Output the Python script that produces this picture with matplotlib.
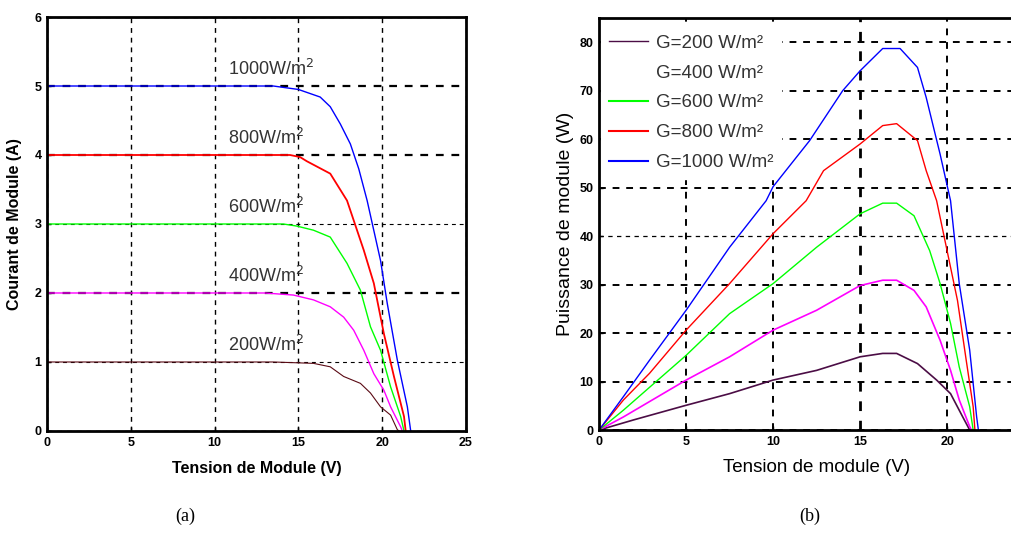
import numpy as np
import matplotlib
matplotlib.use('Agg')
import matplotlib.pyplot as plt
from matplotlib.lines import Line2D

plt.rcParams['font.family'] = ['Liberation Sans', 'DejaVu Sans']

# (a) I-V curves
v_1000 = [0, 13.5, 15.0, 16.3, 16.9, 17.5, 18.1, 18.6, 19.1, 19.9, 20.3, 20.9, 21.5, 21.7]
i_1000 = [5, 5, 4.95, 4.84, 4.70, 4.45, 4.16, 3.80, 3.34, 2.47, 1.85, 1.03, 0.35, 0]
v_800 = [0, 14.5, 15.1, 15.5, 16.9, 17.9, 18.9, 19.5, 20.1, 20.7, 21.3, 21.4]
i_800 = [4, 4, 3.97, 3.91, 3.73, 3.34, 2.62, 2.14, 1.41, 0.79, 0.21, 0]
v_600 = [0, 14.1, 14.9, 15.9, 16.9, 17.9, 18.7, 19.3, 19.9, 20.5, 21.1, 21.3]
i_600 = [3, 3, 2.97, 2.91, 2.81, 2.43, 2.04, 1.51, 1.17, 0.64, 0.21, 0]
v_400 = [0, 13.0, 14.7, 15.9, 16.9, 17.7, 18.3, 18.9, 19.5, 20.1, 20.5, 21.1, 21.2]
i_400 = [2, 2, 1.97, 1.90, 1.80, 1.65, 1.46, 1.17, 0.83, 0.59, 0.35, 0.06, 0]
v_200 = [0, 13.5, 15.9, 16.9, 17.7, 18.7, 19.3, 19.9, 20.5, 20.9, 21.0]
i_200 = [1, 1, 0.98, 0.93, 0.79, 0.69, 0.55, 0.35, 0.23, 0.02, 0]

# (b) P-V curves
pv_1000 = [0, 1.4, 2.9, 5.0, 7.5, 9.6, 10.0, 12.1, 14.0, 15.0, 16.3, 16.7, 17.3, 18.3, 18.8, 19.6, 20.2, 20.7, 21.3, 21.7, 21.8]
p_1000 = [0, 6.9, 14.4, 24.7, 37.7, 47.3, 50.2, 59.7, 70.0, 74.1, 78.7, 78.7, 78.7, 74.8, 68.6, 56.9, 47.3, 30.2, 16.5, 2.7, 0]
pv_800 = [0, 1.4, 2.9, 5.0, 7.5, 10.0, 11.9, 12.9, 15.0, 16.3, 17.1, 18.3, 18.8, 19.4, 20.0, 20.6, 21.1, 21.5, 21.6]
p_800 = [0, 6.2, 11.7, 20.6, 30.2, 40.5, 47.3, 53.5, 59.0, 62.8, 63.2, 59.7, 53.5, 47.3, 37.0, 26.7, 14.4, 4.8, 0]
pv_600 = [0, 1.4, 5.0, 7.5, 10.0, 12.5, 15.0, 16.3, 17.1, 18.1, 19.0, 19.6, 20.2, 20.7, 21.3, 21.5]
p_600 = [0, 4.1, 15.4, 24.0, 30.2, 37.7, 44.6, 46.8, 46.8, 44.2, 37.0, 30.2, 22.0, 13.0, 4.8, 0]
pv_400 = [0, 1.4, 5.0, 7.5, 10.0, 12.5, 15.0, 16.3, 17.1, 18.1, 18.8, 19.6, 20.2, 20.7, 21.3, 21.4]
p_400 = [0, 2.7, 10.3, 15.1, 20.6, 24.7, 29.8, 30.9, 30.9, 28.8, 25.4, 18.5, 12.3, 6.2, 0.7, 0]
pv_200 = [0, 2.0, 5.0, 7.5, 10.0, 12.5, 15.0, 16.3, 17.1, 18.3, 19.4, 20.2, 20.9, 21.3]
p_200 = [0, 2.1, 5.1, 7.5, 10.3, 12.3, 15.1, 15.8, 15.8, 13.7, 10.3, 7.5, 2.7, 0]

iv_labels = ['1000W/m$^2$', '800W/m$^2$', '600W/m$^2$', '400W/m$^2$', '200W/m$^2$']
iv_levels = [5, 4, 3, 2, 1]
legend_labels = ['G=200 W/m²', 'G=400 W/m²', 'G=600 W/m²', 'G=800 W/m²', 'G=1000 W/m²']

fig = plt.figure(figsize=(10.12, 5.4), dpi=100)

dash = (0, (3.5, 3.5))

# ---------- (a) ----------
ax1 = fig.add_axes([0.0464, 0.2019, 0.4141, 0.7666])
ax1.plot(v_1000, i_1000, color='blue', lw=1.0)
ax1.plot(v_800, i_800, color='red', lw=1.3)
ax1.plot(v_600, i_600, color='#00ff00', lw=1.0)
ax1.plot(v_400, i_400, color='magenta', lw=1.0)
ax1.plot(v_200, i_200, color='#5a0a14', lw=0.8)
ax1.set_xlim(0, 25)
ax1.set_ylim(0, 6)
ax1.set_xticks(np.arange(0, 26, 5))
ax1.set_yticks(np.arange(0, 7, 1))
ax1.grid(True, color='black', linestyle=dash, lw=1.0)
for k, gl in enumerate(ax1.yaxis.get_gridlines()):
    gl.set_linewidth([1, 0.8, 1.6, 0.8, 1.6, 1.6, 1][k])
ax1.set_axisbelow(True)
for lab, lev in zip(iv_labels, iv_levels):
    ax1.text(10.8, lev + 0.1, lab, fontsize=13, color='#333333', va='bottom', ha='left')
ax1.set_xlabel('Tension de Module (V)', fontsize=11.5, fontweight='bold', labelpad=9)
ax1.set_ylabel('Courant de Module (A)', fontsize=11.5, fontweight='bold', labelpad=9)

# ---------- (b) ----------
ax2 = fig.add_axes([0.592, 0.2037, 0.4298, 0.763])
ax2.plot(pv_200, p_200, color='#4b0d45', lw=1.2)
ax2.plot(pv_400, p_400, color='magenta', lw=1.2)
ax2.plot(pv_600, p_600, color='#00ff00', lw=1.0)
ax2.plot(pv_800, p_800, color='red', lw=1.0)
ax2.plot(pv_1000, p_1000, color='blue', lw=1.0)
ax2.set_xlim(0, 25)
ax2.set_ylim(0, 85)
ax2.set_xticks(np.arange(0, 21, 5))
ax2.set_yticks(np.arange(0, 81, 10))
ax2.grid(True, color='black', linestyle=dash, lw=1.4)
ax2.xaxis.get_gridlines()[3].set_linewidth(2.0)
ax2.yaxis.get_gridlines()[4].set_linewidth(0.9)
ax2.set_axisbelow(True)
handles = [
    Line2D([], [], color='#4b0d45', lw=1.0),
    Line2D([], [], color='white', lw=1.0),
    Line2D([], [], color='#00ff00', lw=1.5),
    Line2D([], [], color='red', lw=1.5),
    Line2D([], [], color='blue', lw=1.5),
]
leg = ax2.legend(handles, legend_labels, loc='upper left', frameon=True, fontsize=13.5,
                 handlelength=2.1, handletextpad=0.4, labelspacing=0.68,
                 borderaxespad=0.0, bbox_to_anchor=(0.005, 0.978))
leg.get_frame().set_edgecolor('white')
leg.get_frame().set_facecolor('white')
leg.get_frame().set_alpha(1)
leg.set_zorder(1.5)
for t in leg.get_texts():
    t.set_color('#333333')
ax2.set_xlabel('Tension de module (V)', fontsize=13.5, labelpad=8)
ax2.set_ylabel('Puissance de module (W)', fontsize=14, labelpad=4)

for ax in (ax1, ax2):
    for s in ax.spines.values():
        s.set_linewidth(2.0)
    ax.tick_params(direction='in', length=3, width=1, labelsize=9, pad=4)
    for lab in ax.get_xticklabels() + ax.get_yticklabels():
        lab.set_fontweight('bold')

fig.text(0.183, 0.035, '(a)', fontsize=13, family='Liberation Serif', ha='center')
fig.text(0.800, 0.035, '(b)', fontsize=13, family='Liberation Serif', ha='center')

fig.savefig('out.png', dpi=100)
